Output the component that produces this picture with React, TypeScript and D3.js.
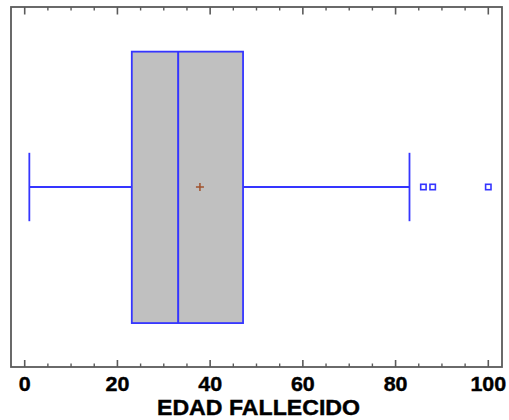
import React from "react";
import * as d3 from "d3";

const W = 509;
const H = 420;

// Box-and-whisker summary for EDAD FALLECIDO
const summaryLabels = ["min", "q1", "median", "q3", "max"];
const summaryValues = [1, 23.1, 33.1, 47.1, 83];
const meanValue = [37.8];
const outlierValues = [86, 88, 100];
const majorTicks = [0, 20, 40, 60, 80, 100];
const minorTicks = [5, 10, 15, 25, 30, 35, 45, 50, 55, 65, 70, 75, 85, 90, 95];
const axisTitle = "EDAD FALLECIDO";

export default function App() {
  const frame = { left: 11, right: 502, top: 7, bottom: 367 };
  const x = d3.scaleLinear().domain([0, 100]).range([24.7, 488.3]);
  const y = d3.scaleLinear().domain([0, 1]).range([frame.top, frame.bottom]);
  const [mn, q1, med, q3, mx] = summaryValues;
  const cy = y(0.5);
  const boxTop = y(0.5 - 0.376);
  const boxBot = y(0.5 + 0.378);
  const capTop = y(0.5 - 0.095);
  const capBot = y(0.5 + 0.095);
  const blue = "#3535ff";
  const frameColor = "#5a5a5a";
  const font = "'Liberation Sans', Arial, sans-serif";
  const lw = 1.8;

  return (
    <svg width={W} height={H} style={{ position: "absolute", left: 0, top: 0, background: "#fff" }}>
      {/* frame */}
      <rect x={frame.left} y={frame.top} width={frame.right - frame.left} height={frame.bottom - frame.top}
        fill="none" stroke={frameColor} strokeWidth={1.8} />
      {/* ticks top & bottom */}
      {majorTicks.map((t) => (
        <g key={"M" + t}>
          <line x1={x(t)} x2={x(t)} y1={frame.top} y2={frame.top + 7.5} stroke={frameColor} strokeWidth={1.6} />
          <line x1={x(t)} x2={x(t)} y1={frame.bottom} y2={frame.bottom - 7} stroke={frameColor} strokeWidth={1.6} />
        </g>
      ))}
      {minorTicks.map((t) => (
        <g key={"m" + t}>
          <line x1={x(t)} x2={x(t)} y1={frame.top} y2={frame.top + 3.5} stroke={frameColor} strokeWidth={1.4} />
          <line x1={x(t)} x2={x(t)} y1={frame.bottom} y2={frame.bottom - 3.5} stroke={frameColor} strokeWidth={1.4} />
        </g>
      ))}
      {/* whiskers */}
      <line x1={x(mn)} x2={x(q1)} y1={cy} y2={cy} stroke={blue} strokeWidth={lw} />
      <line x1={x(q3)} x2={x(mx)} y1={cy} y2={cy} stroke={blue} strokeWidth={lw} />
      <line x1={x(mn)} x2={x(mn)} y1={capTop} y2={capBot} stroke={blue} strokeWidth={lw} />
      <line x1={x(mx)} x2={x(mx)} y1={capTop} y2={capBot} stroke={blue} strokeWidth={lw} />
      {/* box */}
      <rect x={x(q1)} y={boxTop} width={x(q3) - x(q1)} height={boxBot - boxTop}
        fill="#c0c0c0" stroke={blue} strokeWidth={lw} />
      <line x1={x(med)} x2={x(med)} y1={boxTop} y2={boxBot} stroke={blue} strokeWidth={2} />
      {/* mean */}
      {meanValue.map((m, i) => (
        <g key={"mean" + i} stroke="#a0522d" strokeWidth={1.5}>
          <line x1={x(m) - 4} x2={x(m) + 4} y1={cy} y2={cy} />
          <line x1={x(m)} x2={x(m)} y1={cy - 4} y2={cy + 4} />
        </g>
      ))}
      {/* outliers */}
      {outlierValues.map((o, i) => (
        <rect key={"o" + i} x={x(o) - 2.7} y={cy - 2.7} width={5.4} height={5.4}
          fill="none" stroke={blue} strokeWidth={1.6} />
      ))}
      {/* tick labels */}
      {majorTicks.map((t) => (
        <text key={"l" + t} transform={`translate(${x(t)},391) scale(1.1,1)`} textAnchor="middle"
          fontFamily={font} fontWeight="bold" fontSize={19.5} fill="#000" stroke="#000" strokeWidth={0.4}>
          {t}
        </text>
      ))}
      <text x={258.5} y={415} textAnchor="middle" fontFamily={font} fontWeight="bold" fontSize={21.5}
        textLength={203} lengthAdjust="spacingAndGlyphs" fill="#000" stroke="#000" strokeWidth={0.4}>
        {axisTitle}
      </text>
    </svg>
  );
}
